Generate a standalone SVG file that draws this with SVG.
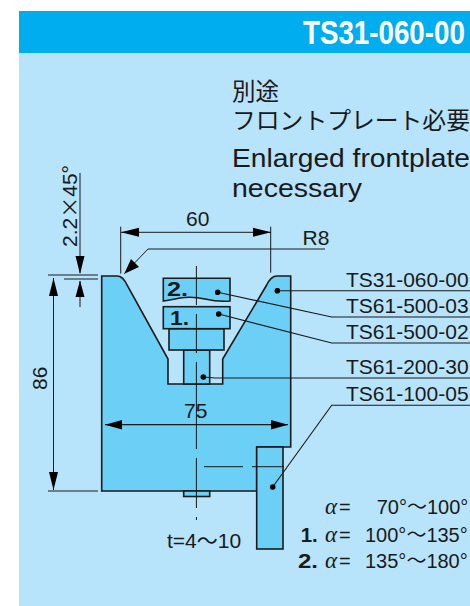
<svg xmlns="http://www.w3.org/2000/svg" width="470" height="606" viewBox="0 0 470 606">
<style>
text{font-family:"Liberation Sans","Noto Sans CJK JP",sans-serif;fill:#1a1a1a;font-size:21px}
.p{fill:#6ccff6;stroke:#1a1a1a;stroke-width:1.6;stroke-linejoin:miter}
.l{fill:none;stroke:#1a1a1a;stroke-width:1.1}
.d{fill:none;stroke:#1a1a1a;stroke-width:1}
.a{fill:#000;stroke:none}
.j{font-family:"Noto Sans CJK JP","Liberation Sans",sans-serif}
.b{font-weight:bold}
.i{font-style:italic;font-family:"Liberation Serif",serif;font-size:23px}
.e{font-family:"Liberation Sans",sans-serif;font-style:normal;font-size:20px}
.t{font-size:20px}
</style>
<defs>
<marker id="dot" viewBox="0 0 6 6" refX="3" refY="3" markerWidth="6" markerHeight="6" markerUnits="userSpaceOnUse"><circle cx="3" cy="3" r="2.8" fill="#000"/></marker>
</defs>
<rect width="470" height="606" fill="#fff"/>
<rect x="19" y="11" width="451" height="595" fill="#b7e3fb"/>
<rect id="header" x="19" y="11" width="451" height="42" fill="#00aeef"/>
<text transform="translate(303 44) scale(.841 1)" style="font-size:33px;font-weight:bold;fill:#fff">TS31-060-00</text>
<g id="note">
<text class="j" x="232" y="99.5" style="font-size:23.5px">別途</text>
<text class="j" x="232" y="129" style="font-size:23.8px">フロントプレート必要</text>
<text x="232" y="167" style="font-size:25px" textLength="238" lengthAdjust="spacingAndGlyphs">Enlarged frontplate</text>
<text x="232" y="196.5" style="font-size:25px" textLength="130" lengthAdjust="spacingAndGlyphs">necessary</text>
</g>
<g id="frontplate-body">
<path class="p" d="M101.7 276H117Q123 276 127 285L168 359V384H222.7V359L266.7 285Q271 276 277 276H290.7V447H256.7V491H101.7Z"/>
<rect class="p" x="183.7" y="491" width="26" height="5.5"/>
</g>
<g id="ts61-200-30"><rect class="p" x="183.7" y="350" width="26" height="34"/></g>
<g id="block-base"><rect class="p" x="169" y="328.7" width="55" height="21.3"/></g>
<g id="ts61-500-02"><rect class="p" x="163.3" y="306.7" width="66.7" height="22"/>
<text class="b" x="170" y="324.5" textLength="19" lengthAdjust="spacingAndGlyphs">1.</text></g>
<g id="ts61-500-03"><path class="p" d="M163.3 278.3H230V301Q218 302 205 299T180 298Q170 300 163.3 301Z"/>
<text class="b" x="167" y="295.5" textLength="21" lengthAdjust="spacingAndGlyphs">2.</text></g>
<g id="ts61-100-05"><rect class="p" x="256.7" y="447" width="26.3" height="102"/></g>
<g id="connectors">
<path class="d" stroke-dasharray="39 9 39 9 87 9 50 9 27" d="M196.4 266V520"/>
<path class="d" stroke-dasharray="39 9 32" d="M204 466.7H285"/>
<path class="l" marker-start="url(#dot)" d="M277.3 290.7H470"/>
<path class="l" marker-start="url(#dot)" d="M217.7 292.3L331.7 317H470"/>
<path class="l" marker-start="url(#dot)" d="M218.7 314L331.7 343H470"/>
<path class="l" marker-start="url(#dot)" d="M203.3 377L215 378H470"/>
<path class="l" marker-start="url(#dot)" d="M272.7 487L331.7 405.3H470"/>
<path class="d" d="M120.7 226.7V273.6M270.7 226.7V272.7M121 232.3H271"/>
<path class="a" d="M121 232.3L139 227.8V236.8ZM271 232.3L253 227.8V236.8Z"/>
<path class="d" d="M325 249H148L124.3 273.7"/>
<path class="a" d="M124.3 273.7L131 259 139 267Z"/>
<path class="d" d="M80 173V273M80 281V307M48 275H98M64 279H98"/>
<path class="a" d="M80 274L75.5 256H84.5ZM80 280.5L75.5 297H84.5Z"/>
<path class="d" d="M53.5 278V490M48 491H98"/>
<path class="a" d="M53.5 278L49 296H58ZM53.5 490L49 472H58Z"/>
<path class="d" d="M105 424.7H288" style="stroke-width:1.3"/>
<path class="a" d="M105 424.7L122 420V429.4ZM288 424.7L271 420V429.4Z"/>
</g>
<g id="labels">
<text x="346" y="286.7">TS31-060-00</text>
<text x="346" y="312.7">TS61-500-03</text>
<text x="346" y="338.7">TS61-500-02</text>
<text x="346" y="374">TS61-200-30</text>
<text x="346" y="400.7">TS61-100-05</text>
<text x="302.5" y="245">R8</text>
<text x="186" y="226">60</text>
<text x="184" y="418">75</text>
<text transform="translate(46.7 390) rotate(-90)">86</text>
<text transform="translate(76.7 247) rotate(-90)">2.2<tspan class="j">×</tspan>45°</text>
<text x="167" y="548">t=4<tspan class="j">〜</tspan>10</text>
<text class="i" x="325" y="514.3">α<tspan class="e" dx="2">=</tspan></text>
<text class="t" x="376.7" y="514.3">70°<tspan class="j">〜</tspan>100°</text>
<text class="b" x="300.7" y="541.7" textLength="17" lengthAdjust="spacingAndGlyphs">1.</text>
<text class="i" x="325" y="541.7">α<tspan class="e" dx="2">=</tspan></text>
<text class="t" x="365" y="541.7">100°<tspan class="j">〜</tspan>135°</text>
<text class="b" x="298" y="568.3" textLength="20" lengthAdjust="spacingAndGlyphs">2.</text>
<text class="i" x="325" y="568.3">α<tspan class="e" dx="2">=</tspan></text>
<text class="t" x="365" y="568.3">135°<tspan class="j">〜</tspan>180°</text>
</g>
</svg>
